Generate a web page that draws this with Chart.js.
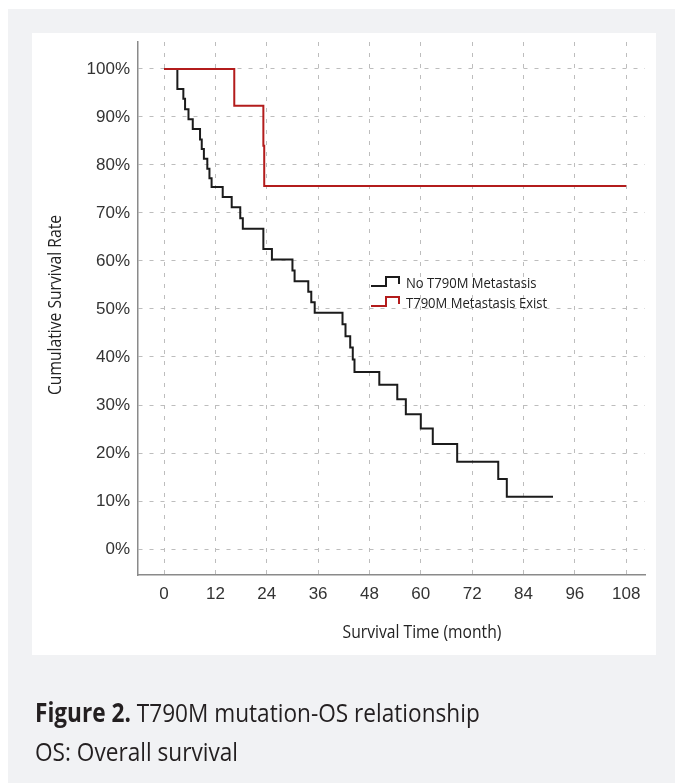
<!DOCTYPE html>
<html>
<head>
<meta charset="utf-8">
<script src="https://cdn.jsdelivr.net/npm/chart.js@4.4.1/dist/chart.umd.min.js"></script>
<style>
  html, body { margin: 0; padding: 0; background: #fff; }
  body { width: 675px; height: 783px; position: relative; overflow: hidden; }
  .frame { position: absolute; left: 8px; top: 9px; right: 0; bottom: 0; background: #f1f2f4; }
  .panel { position: absolute; left: 32px; top: 33px; width: 624px; height: 622px; background: #fff; }
  .chartbox { position: absolute; left: 0; top: 0; width: 675px; height: 783px; }
  .caption {
    position: absolute; left: 35px; white-space: nowrap;
    font-family: 'Open Sans', sans-serif; font-size: 26px; color: #231f20;
    transform-origin: left top; transform: scaleX(0.87);
  }
  .caption b { font-weight: 700; }
</style>
</head>
<body>
<div class="frame"></div>
<div class="panel"></div>
<div class="chartbox"><canvas id="km"></canvas></div>
<div class="caption" style="top:694px"><b>Figure 2.</b> T790M mutation-OS relationship</div>
<div class="caption" style="top:733px">OS: Overall survival</div>

<script>
// x / y ticks
const monthTicks = [0, 12, 24, 36, 48, 60, 72, 84, 96, 108];
const rateTicks = [0, 10, 20, 30, 40, 50, 60, 70, 80, 90, 100];

// No T790M Metastasis (black) - start of each step, month / %
const noT790mMonths = [0, 3.1, 4.5, 4.9, 5.7, 6.7, 8.4, 8.8, 9.3, 10.1, 10.6, 11.1, 13.7, 15.8, 17.8, 18.4,
  23.2, 25.2, 30.0, 30.5, 33.7, 34.4, 35.2, 41.7, 42.4, 43.5, 44.1, 44.5, 50.3, 54.5, 56.5, 60.0,
  62.8, 68.5, 78.1, 80.1, 90.9];
const noT790mRates = [100, 95.8, 93.8, 91.6, 89.5, 87.5, 85.3, 83.3, 81.3, 79.2, 77.2, 75.4, 73.3, 71.2, 68.9, 66.7,
  62.5, 60.3, 58.0, 55.8, 53.6, 51.4, 49.2, 46.8, 44.3, 42.0, 39.5, 36.9, 34.2, 31.2, 28.1, 25.1,
  21.9, 18.2, 14.6, 10.9, 10.9];

// T790M Metastasis Exist (red)
const t790mMonths = [0, 16.4, 23.2, 23.4, 108];
const t790mRates = [100, 92.3, 84.0, 75.6, 75.6];

const seriesNames = ['No T790M Metastasis', 'T790M Metastasis Exist'];
const xTitle = 'Survival Time (month)';
const yTitle = 'Cumulative Survival Rate';

const BLACK = '#1b1b1b';
const RED = '#b31c1c';
const GRID = '#bdbdbd';

function toPoints(xs, ys) {
  return xs.map((x, i) => ({ x: x, y: ys[i] }));
}

// narrow humanist text (the figure uses a condensed face)
function narrowText(ctx, text, x, y, size, opts) {
  opts = opts || {};
  ctx.save();
  ctx.translate(x, y);
  if (opts.rotate) ctx.rotate(opts.rotate);
  ctx.scale(0.87, 1);
  ctx.font = size + "px 'Open Sans', sans-serif";
  ctx.textAlign = opts.align || 'center';
  ctx.textBaseline = 'middle';
  ctx.fillStyle = opts.color || '#222';
  ctx.fillText(text, 0, 0);
  ctx.restore();
}

const labelsPlugin = {
  id: 'kmLabels',
  afterDraw(chart) {
    const ctx = chart.ctx;
    narrowText(ctx, yTitle, 56, 305, 18, { rotate: -Math.PI / 2 });
    narrowText(ctx, xTitle, 422, 633, 18);

    // legend: small step glyph + name
    const rows = [
      { color: BLACK, y: 285, name: seriesNames[0] },
      { color: RED, y: 305, name: seriesNames[1] }
    ];
    rows.forEach(r => {
      ctx.save();
      ctx.strokeStyle = r.color;
      ctx.lineWidth = 2;
      ctx.beginPath();
      ctx.moveTo(371, r.y + 1);
      ctx.lineTo(386, r.y + 1);
      ctx.lineTo(386, r.y - 8);
      ctx.lineTo(399, r.y - 8);
      ctx.lineTo(399, r.y - 1);
      ctx.stroke();
      ctx.restore();
      narrowText(ctx, r.name, 406, r.y - 1, 15, { align: 'left' });
    });
  }
};

const tickFont = { family: "'Liberation Sans', Arial, sans-serif", size: 17 };

new Chart(document.getElementById('km'), {
  type: 'line',
  data: {
    datasets: [
      {
        label: seriesNames[1],
        data: toPoints(t790mMonths, t790mRates),
        borderColor: RED,
        borderWidth: 2,
        pointRadius: 0,
        stepped: true,
        fill: false,
        order: 0
      },
      {
        label: seriesNames[0],
        data: toPoints(noT790mMonths, noT790mRates),
        borderColor: BLACK,
        borderWidth: 2,
        pointRadius: 0,
        stepped: true,
        fill: false,
        order: 1
      }
    ]
  },
  options: {
    responsive: true,
    maintainAspectRatio: false,
    animation: false,
    layout: { padding: { top: 42, right: 30, left: 0, bottom: 0 } },
    plugins: {
      legend: { display: false },
      tooltip: { enabled: false }
    },
    scales: {
      x: {
        type: 'linear',
        min: -6.1,
        max: 112.4,
        afterBuildTicks: s => { s.ticks = monthTicks.map(v => ({ value: v })); },
        afterFit: s => { s.height = 208; },
        ticks: { font: tickFont, color: '#333', padding: 9, maxRotation: 0, autoSkip: false },
        grid: { color: GRID, lineWidth: 1, drawTicks: false },
        border: { color: '#8a8a8a', width: 1.5, dash: [4, 7] }
      },
      y: {
        min: -5.4,
        max: 105.6,
        afterBuildTicks: s => { s.ticks = rateTicks.map(v => ({ value: v })); },
        afterFit: s => { s.width = 138; },
        ticks: { font: tickFont, color: '#333', padding: 8, callback: v => v + '%' },
        grid: { color: GRID, lineWidth: 1, drawTicks: false },
        border: { color: '#8a8a8a', width: 1.5, dash: [4, 7] }
      }
    }
  },
  plugins: [labelsPlugin]
});
</script>
</body>
</html>
